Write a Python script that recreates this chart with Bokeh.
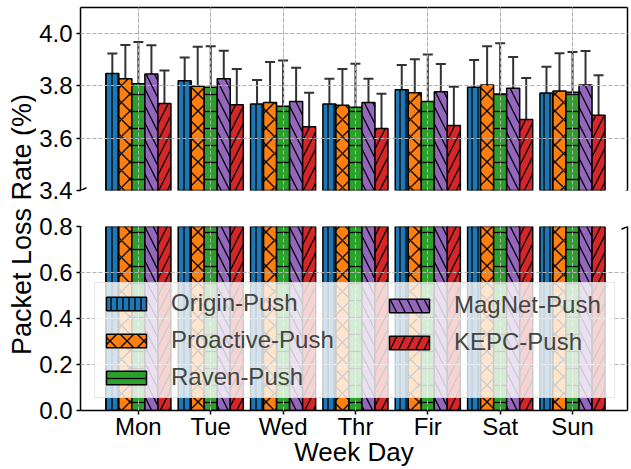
import numpy as np
from bokeh.plotting import figure
from bokeh.models import (ColumnDataSource, Range1d, FixedTicker, LinearAxis, Grid,
                          Legend, LegendItem, Label, Whisker, TeeHead, Arrow,
                          PrintfTickFormatter)
from bokeh.layouts import row, column
from bokeh.embed import file_html
from bokeh.resources import INLINE

# ---------------- data ----------------
days = ["Mon", "Tue", "Wed", "Thr", "Fir", "Sat", "Sun"]
series_names = ["Origin-Push", "Proactive-Push", "Raven-Push", "MagNet-Push", "KEPC-Push"]

origin = [3.848, 3.820, 3.731, 3.731, 3.785, 3.795, 3.773]
origin_err = [0.076, 0.089, 0.092, 0.096, 0.095, 0.104, 0.100]
proactive = [3.827, 3.799, 3.737, 3.726, 3.774, 3.804, 3.781]
proactive_err = [0.130, 0.151, 0.155, 0.139, 0.128, 0.148, 0.144]
raven = [3.808, 3.795, 3.722, 3.718, 3.740, 3.769, 3.776]
raven_err = [0.160, 0.157, 0.175, 0.167, 0.180, 0.194, 0.154]
magnet = [3.846, 3.827, 3.740, 3.737, 3.778, 3.791, 3.804]
magnet_err = [0.110, 0.108, 0.130, 0.090, 0.106, 0.120, 0.130]
kepc = [3.733, 3.728, 3.644, 3.637, 3.649, 3.672, 3.688]
kepc_err = [0.126, 0.137, 0.130, 0.133, 0.148, 0.158, 0.153]

upper_ticks = [3.4, 3.6, 3.8, 4.0]
lower_ticks = [0.0, 0.2, 0.4, 0.6, 0.8]

values = [origin, proactive, raven, magnet, kepc]
errors = [origin_err, proactive_err, raven_err, magnet_err, kepc_err]
colors = ["#1f77b4", "#ff7f0e", "#2ca02c", "#9467bd", "#d62728"]
hatches = ["|", "x", "-", "\\", "/"]
hatch_scales = [6, 17, 17, 17, 17]

FONT = "Liberation Sans"
TICK_FS = "24px"
LABEL_FS = "26px"
BAR_W = 0.18
LAB_W = 36
W = 631 - LAB_W
FRAME_W = 549

x_range = Range1d(-0.8, 6.76)
x_idx = np.arange(len(days))


def base_fig(height, y_range, yticks, border_top, border_bottom):
    p = figure(width=W, height=height, x_range=x_range, y_range=y_range,
               x_axis_location=None, output_backend="svg", toolbar_location=None,
               min_border_left=78 - LAB_W, min_border_right=4,
               min_border_top=border_top, min_border_bottom=border_bottom)
    p.outline_line_color = None
    p.background_fill_color = "white"
    ax = p.yaxis[0]
    ax.ticker = FixedTicker(ticks=yticks)
    ax.formatter = PrintfTickFormatter(format="%.1f")
    ax.major_label_text_font = FONT
    ax.major_label_text_font_size = TICK_FS
    ax.major_label_text_color = "black"
    ax.major_tick_out = 4
    ax.major_tick_in = 0
    ax.minor_tick_out = 0
    ax.minor_tick_in = 0
    ax.major_label_standoff = 4
    ax.axis_line_width = 1.5
    ax.major_tick_line_width = 1.5
    p.ygrid.grid_line_color = "#b0b0b0"
    p.ygrid.grid_line_dash = "4 2"
    p.ygrid.level = "guide"
    xg = Grid(dimension=0, ticker=FixedTicker(ticks=list(x_idx)),
              grid_line_color="#b0b0b0", grid_line_dash="4 2", level="guide")
    p.add_layout(xg)
    right = LinearAxis(ticker=FixedTicker(ticks=[]), major_tick_out=0, major_tick_in=0,
                       minor_tick_out=0, minor_tick_in=0, major_label_standoff=0,
                       axis_line_width=1.5)
    p.add_layout(right, "right")
    return p


# ---------------- upper panel ----------------
up = base_fig(206, Range1d(3.4, 4.1), upper_ticks, 7, 16)
top_axis = LinearAxis(ticker=FixedTicker(ticks=[]), major_tick_out=0, major_tick_in=0,
                      minor_tick_out=0, minor_tick_in=0, major_label_standoff=0,
                      axis_line_width=1.5)
up.add_layout(top_axis, "above")

# ---------------- lower panel ----------------
lo = base_fig(263, Range1d(0.0, 0.8), lower_ticks, 20, 59)
xax = LinearAxis(ticker=FixedTicker(ticks=list(x_idx)),
                 major_label_overrides={int(i): d for i, d in enumerate(days)},
                 major_label_text_font=FONT, major_label_text_font_size=TICK_FS,
                 major_label_text_color="black",
                 major_tick_out=4, major_tick_in=0, minor_tick_out=0, minor_tick_in=0,
                 major_label_standoff=-2, axis_line_width=1.5, major_tick_line_width=1.5,
                 axis_label="Week Day", axis_label_text_font=FONT,
                 axis_label_text_font_size=LABEL_FS, axis_label_text_font_style="normal",
                 axis_label_text_color="black", axis_label_standoff=-6)
lo.add_layout(xax, "below")

lower_renderers = []
for k in range(len(series_names)):
    xs = x_idx + (k - 2) * BAR_W
    vals = np.array(values[k])
    errs = np.array(errors[k])
    src = ColumnDataSource(dict(x=xs, top=vals, upper=vals + errs, lower=vals - errs))
    for p in (up, lo):
        r = p.vbar(x="x", top="top", bottom=0, width=BAR_W, source=src,
                   fill_color=colors[k], line_color="black", line_width=1.5,
                   hatch_pattern=hatches[k], hatch_color="black",
                   hatch_weight=1.3, hatch_scale=hatch_scales[k])
        if p is lo:
            lower_renderers.append(r)
    wh = Whisker(source=src, base="x", upper="upper", lower="lower",
                 line_color="#333333", line_width=2,
                 upper_head=TeeHead(size=10, line_color="#333333", line_width=2),
                 lower_head=TeeHead(size=10, line_color="#333333", line_width=2))
    up.add_layout(wh)

# ---------------- break marks ----------------
def break_marks(p, yval, frame_h, yspan):
    dx = 6.0 * (x_range.end - x_range.start) / FRAME_W
    dy = 2.7 * yspan / frame_h
    for x0 in (x_range.start, x_range.end):
        p.add_layout(Arrow(end=None, x_start=x0 - dx, y_start=yval - dy,
                           x_end=x0 + dx, y_end=yval + dy,
                           line_color="black", line_width=1.5))

break_marks(up, up.y_range.start, 183, up.y_range.end - up.y_range.start)
break_marks(lo, lo.y_range.end, 184, lo.y_range.end - lo.y_range.start)

# ---------------- legend ----------------
common = dict(label_text_font=FONT, label_text_font_size=TICK_FS,
              glyph_width=50, glyph_height=17, label_standoff=20,
              spacing=9, padding=6, margin=0)
legA = Legend(items=[LegendItem(label=series_names[i], renderers=[lower_renderers[i]]) for i in range(3)],
              location=(14, 12), label_width=437,
              background_fill_color="white", background_fill_alpha=0.8,
              border_line_color="#cccccc", border_line_width=1, **common)
legB = Legend(items=[LegendItem(label=series_names[i], renderers=[lower_renderers[i]]) for i in range(3, 5)],
              location=(298, 12 + 36),
              background_fill_alpha=0, border_line_alpha=0, **common)
lo.add_layout(legA)
lo.add_layout(legB)

# ---------------- y axis title (spans both panels) ----------------
lab = figure(width=LAB_W, height=469, x_range=Range1d(0, 1), y_range=Range1d(0, 1),
             x_axis_location=None, y_axis_location=None, output_backend="svg",
             toolbar_location=None, min_border=0)
lab.outline_line_color = None
lab.grid.visible = False
lab.add_layout(Label(x=21.5, y=469 - 224, x_units="screen", y_units="screen",
                     text="Packet Loss Rate (%)", angle=np.pi / 2,
                     text_align="center", text_baseline="middle",
                     text_font=FONT, text_font_size="27px", text_color="black"))

layout = row(lab, column(up, lo))
open("out.html", "w").write(file_html(layout, INLINE))
